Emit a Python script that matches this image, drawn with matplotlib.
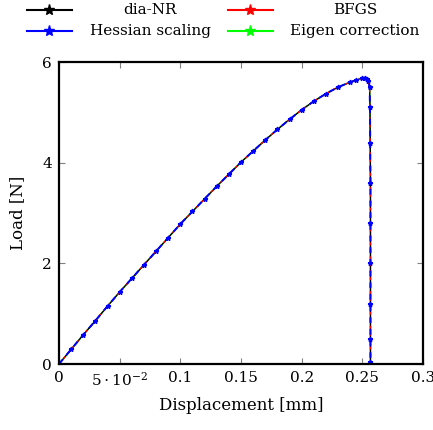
import numpy as np
import matplotlib.pyplot as plt
from matplotlib.lines import Line2D

# load-displacement curve (same path for all four solvers)
disp = [0.0, 0.01, 0.02, 0.03, 0.04, 0.05, 0.06, 0.07, 0.08, 0.09, 0.10,
        0.11, 0.12, 0.13, 0.14, 0.15, 0.16, 0.17, 0.18, 0.19, 0.20,
        0.21, 0.22, 0.23, 0.24, 0.245, 0.25, 0.252, 0.254, 0.255, 0.256,
        0.2563, 0.2565, 0.2567, 0.2567, 0.2567, 0.2567, 0.2567, 0.2567]
load = [0.0, 0.29, 0.58, 0.86, 1.15, 1.43, 1.70, 1.97, 2.24, 2.51, 2.78,
        3.03, 3.28, 3.53, 3.77, 4.01, 4.23, 4.45, 4.66, 4.86, 5.05,
        5.22, 5.37, 5.50, 5.60, 5.64, 5.68, 5.69, 5.67, 5.62, 5.50,
        5.1, 4.4, 3.6, 2.8, 2.0, 1.2, 0.5, 0.03]

solvers = ["dia-NR", "BFGS", "Hessian scaling", "Eigen correction"]
colors = ["black", "red", "blue", "lime"]

plt.rcParams["font.family"] = "DejaVu Serif"
plt.rcParams["mathtext.fontset"] = "dejavuserif"
plt.rcParams["font.size"] = 11

W, H = 433, 430
fig = plt.figure(figsize=(W / 100, H / 100), dpi=100)
ax = fig.add_axes([59 / W, 66 / H, 364 / W, 302 / H])

ax.plot(disp, load, color="lime", lw=1)
ax.plot(disp, load, color="black", lw=1)
ax.plot(disp, load, color="red", lw=1, ls=(0, (2, 3)))
ax.plot(disp, load, color="blue", lw=1.4, ls=(0, (3, 3)), marker="*", ms=3.5)

ax.set_xlim(0, 0.3)
ax.set_ylim(0, 6)
ax.set_xticks([0, 0.05, 0.1, 0.15, 0.2, 0.25, 0.3])
ax.set_xticklabels(["0", r"$5\cdot10^{-2}$", "0.1", "0.15", "0.2", "0.25", "0.3"])
ax.set_yticks([0, 2, 4, 6])
ax.tick_params(direction="in", color="gray", length=4.5, width=0.8,
               top=True, right=True, pad=5)
for s in ax.spines.values():
    s.set_linewidth(1.6)

ax.set_xlabel("Displacement [mm]", labelpad=6, fontsize=12)
ax.set_ylabel("Load [N]", labelpad=12, fontsize=12)

# legend in two rows, labels centred in their columns
slots = [(27, 150, 10), (228, 355, 10), (27, 150, 31), (228, 355, 31)]
for name, c, (hx, tx, ty) in zip(solvers, colors, slots):
    yf = 1 - ty / H
    fig.add_artist(Line2D([hx / W, (hx + 45) / W], [yf, yf], color=c, lw=1.5,
                          transform=fig.transFigure))
    fig.add_artist(Line2D([(hx + 22) / W], [yf], color=c, marker="*", ms=8,
                          transform=fig.transFigure))
    fig.text(tx / W, yf, name, ha="center", va="center", fontsize=11)

fig.savefig("out.png", dpi=100)
